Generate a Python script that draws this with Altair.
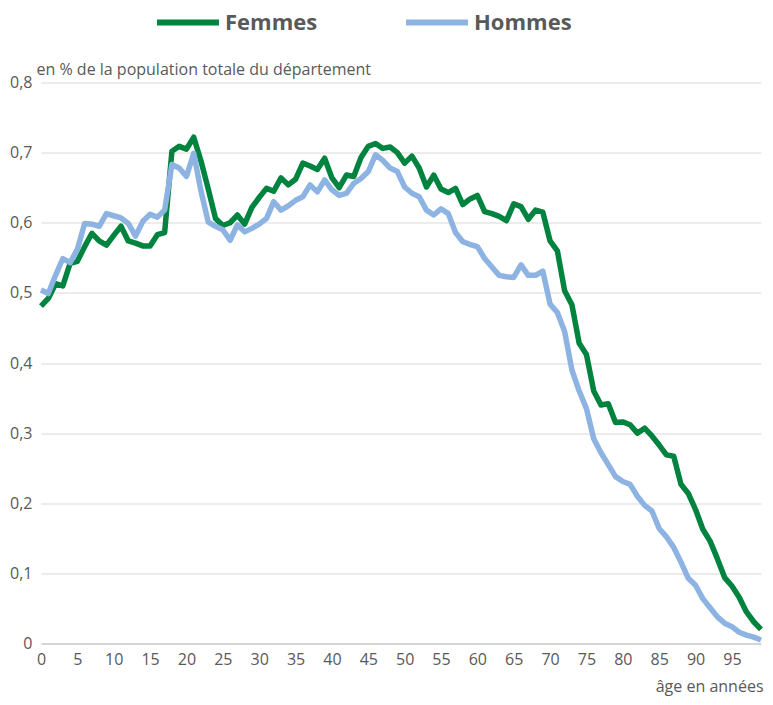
import altair as alt
import pandas as pd

ages = list(range(0, 100))

femmes = [
    0.481, 0.492, 0.513, 0.510, 0.542, 0.545, 0.566, 0.585, 0.574, 0.568,
    0.582, 0.595, 0.574, 0.571, 0.567, 0.567, 0.583, 0.586, 0.702, 0.709,
    0.705, 0.722, 0.688, 0.648, 0.606, 0.596, 0.600, 0.611, 0.598, 0.622,
    0.636, 0.649, 0.645, 0.664, 0.654, 0.662, 0.685, 0.681, 0.676, 0.692,
    0.664, 0.650, 0.668, 0.666, 0.693, 0.709, 0.713, 0.706, 0.708, 0.700,
    0.685, 0.695, 0.678, 0.651, 0.668, 0.648, 0.643, 0.649, 0.626, 0.634,
    0.639, 0.616, 0.613, 0.609, 0.603, 0.627, 0.623, 0.605, 0.618, 0.615,
    0.574, 0.560, 0.503, 0.483, 0.428, 0.412, 0.360, 0.340, 0.342, 0.315,
    0.316, 0.312, 0.300, 0.307, 0.296, 0.283, 0.269, 0.267, 0.227, 0.214,
    0.191, 0.163, 0.146, 0.121, 0.094, 0.082, 0.066, 0.045, 0.031, 0.020,
]

hommes = [
    0.504, 0.499, 0.525, 0.549, 0.543, 0.562, 0.599, 0.598, 0.595, 0.613,
    0.610, 0.607, 0.599, 0.581, 0.602, 0.612, 0.608, 0.618, 0.683, 0.678,
    0.666, 0.699, 0.645, 0.601, 0.595, 0.590, 0.575, 0.597, 0.587, 0.592,
    0.598, 0.606, 0.630, 0.618, 0.624, 0.632, 0.637, 0.654, 0.644, 0.661,
    0.647, 0.639, 0.642, 0.656, 0.663, 0.673, 0.697, 0.689, 0.678, 0.673,
    0.651, 0.642, 0.637, 0.618, 0.611, 0.620, 0.613, 0.586, 0.573, 0.569,
    0.566, 0.549, 0.537, 0.525, 0.523, 0.522, 0.540, 0.525, 0.525, 0.531,
    0.484, 0.472, 0.445, 0.390, 0.360, 0.335, 0.292, 0.272, 0.255, 0.238,
    0.231, 0.227, 0.210, 0.197, 0.189, 0.164, 0.152, 0.137, 0.116, 0.093,
    0.083, 0.064, 0.051, 0.038, 0.029, 0.024, 0.016, 0.012, 0.009, 0.005,
]

series_names = ["Femmes", "Hommes"]
series_colors = ["#00833f", "#8db3e2"]
x_ticks = list(range(0, 100, 5))
y_ticks = [0, 0.1, 0.2, 0.3, 0.4, 0.5, 0.6, 0.7, 0.8]

rows = []
for name, vals in zip(series_names, [femmes, hommes]):
    for a, v in zip(ages, vals):
        rows.append({"age": a, "valeur": v, "sexe": name})
df = pd.DataFrame(rows)

FONT = "Open Sans"
GREY = "#595959"

chart = alt.Chart(df).mark_line(strokeWidth=5.5, strokeJoin="round").encode(
    x=alt.X(
        "age:Q",
        scale=alt.Scale(domain=[0, 99], nice=False, zero=False),
        axis=alt.Axis(
            values=x_ticks,
            title="âge en années",
            titleX=722,
            titleY=48,
            titleAlign="right",
            titleBaseline="alphabetic",
            titleFont=FONT,
            titleFontSize=16,
            titleFontWeight="normal",
            titleColor=GREY,
            labelFont=FONT,
            labelFontSize=16,
            labelColor=GREY,
            labelPadding=8,
            ticks=False,
            grid=False,
            domain=True,
            domainColor="#bfbfbf",
            domainWidth=1,
            labelFlush=False,
            labelOverlap=False,
        ),
    ),
    y=alt.Y(
        "valeur:Q",
        scale=alt.Scale(domain=[0, 0.8], nice=False),
        axis=alt.Axis(
            values=y_ticks,
            title="en % de la population totale du département",
            titleAngle=0,
            titleX=-5,
            titleY=-8.5,
            titleAlign="left",
            titleBaseline="alphabetic",
            titleFont=FONT,
            titleFontSize=16,
            titleFontWeight="normal",
            titleColor=GREY,
            labelFont=FONT,
            labelFontSize=16,
            labelColor=GREY,
            labelPadding=9,
            labelExpr="replace(format(datum.value, '.1~f'), '.', ',')",
            ticks=False,
            domain=False,
            grid=True,
            gridColor="#d9d9d9",
            gridWidth=1,
        ),
    ),
    color=alt.Color(
        "sexe:N",
        scale=alt.Scale(domain=series_names, range=series_colors),
        legend=alt.Legend(
            title=None,
            orient="none",
            direction="horizontal",
            legendX=136,
            legendY=-71,
            symbolType="M-4,0L4,0",
            symbolSize=240,
            symbolStrokeWidth=6,
            labelFont=FONT,
            labelFontSize=22,
            labelFontWeight="bold",
            labelColor=GREY,
            labelOffset=26,
            columnPadding=76,
        ),
    ),
    order=alt.Order("age:Q"),
).properties(
    width=720,
    height=561,
    autosize=alt.AutoSizeParams(type="none"),
    padding={"left": 33, "top": 74.5, "right": 4, "bottom": 53.5},
    background="white",
).configure_view(stroke=None)

chart.save("out.html", embed_options={"renderer": "svg", "actions": False})
